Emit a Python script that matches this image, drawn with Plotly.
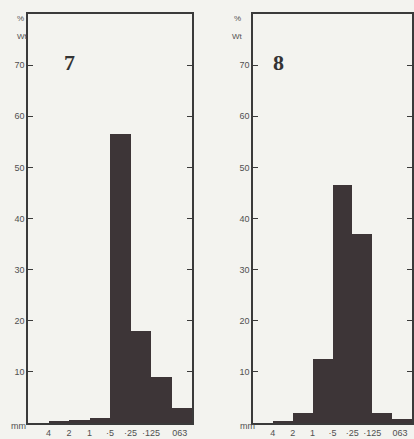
import plotly.graph_objects as go

# Grain-size classes (mm), boundaries between the 8 classes
size_labels = ["4", "2", "1", "·5", "·25", "·125", "063"]
classes = [">4", "4-2", "2-1", "1-·5", "·5-·25", "·25-·125", "·125-·063", "<·063"]

# % weight per class
sample7 = [0.0, 0.3, 0.6, 0.9, 56.5, 18.0, 9.0, 3.0]
sample8 = [0.0, 0.2, 2.0, 12.5, 46.5, 37.0, 2.0, 0.8]

y_ticks = [10, 20, 30, 40, 50, 60, 70]

BAR = "#3d3537"
AX = "#3a3a3a"
BG = "#f3f3ef"
TXT = "#505050"

fig = go.Figure()
centers = [i + 0.5 for i in range(len(classes))]
fig.add_trace(go.Bar(x=centers, y=sample7, width=1.0, marker=dict(color=BAR, line=dict(width=0)),
                     xaxis="x", yaxis="y", showlegend=False, hovertext=classes))
fig.add_trace(go.Bar(x=centers, y=sample8, width=1.0, marker=dict(color=BAR, line=dict(width=0)),
                     xaxis="x2", yaxis="y2", showlegend=False, hovertext=classes))

tickpos = [i + 1 for i in range(len(size_labels))]
tickpos[-1] = 7.4

xcommon = dict(range=[0, 8], showgrid=False, zeroline=False, showline=True, linecolor=AX,
               linewidth=1.5, mirror=True, ticks="", tickvals=tickpos, ticktext=size_labels,
               tickfont=dict(family="Liberation Sans", size=9, color=TXT), fixedrange=True)
ycommon = dict(range=[0, 80], showgrid=False, zeroline=False, showline=True, linecolor=AX,
               linewidth=1.5, mirror="ticks", ticks="inside", ticklen=5, tickwidth=1.2,
               tickcolor=AX, tickvals=y_ticks,
               tickfont=dict(family="Liberation Sans", size=9, color=TXT), fixedrange=True)

ydom = [1 - 423 / 439, 1 - 14 / 439]
fig.update_layout(
    width=414, height=439,
    margin=dict(l=0, r=0, t=0, b=0),
    paper_bgcolor=BG, plot_bgcolor=BG,
    bargap=0,
    xaxis=dict(domain=[28 / 414, 192 / 414], anchor="y", **xcommon),
    yaxis=dict(domain=ydom, anchor="x", **ycommon),
    xaxis2=dict(domain=[253 / 414, 412 / 414], anchor="y2", **xcommon),
    yaxis2=dict(domain=ydom, anchor="x2", **ycommon),
)

ann = []
for xpx, label in [(62, "7"), (286, "8")]:
    ann.append(dict(x=xpx / 414, y=1 - 48 / 439, xref="paper", yref="paper", text="<b>" + label + "</b>",
                    showarrow=False, font=dict(family="Liberation Serif", size=22, color="#333333")))
for xpx in (15, 237):
    ann.append(dict(x=xpx / 414, y=1 - 12 / 439, xref="paper", yref="paper", text="%",
                    showarrow=False, font=dict(family="Liberation Sans", size=8, color=TXT)))
    ann.append(dict(x=xpx / 414, y=1 - 30 / 439, xref="paper", yref="paper", text="Wt",
                    showarrow=False, font=dict(family="Liberation Sans", size=8, color=TXT)))
for xpx in (9, 247):
    ann.append(dict(x=xpx / 414, y=1 - 433 / 439, xref="paper", yref="paper", text="mm",
                    showarrow=False, font=dict(family="Liberation Sans", size=9, color=TXT)))
fig.update_layout(annotations=ann)

fig.write_html("out.html", config={"displayModeBar": False},
               post_script="document.body.style.margin='0';document.body.style.background='%s';" % BG)
